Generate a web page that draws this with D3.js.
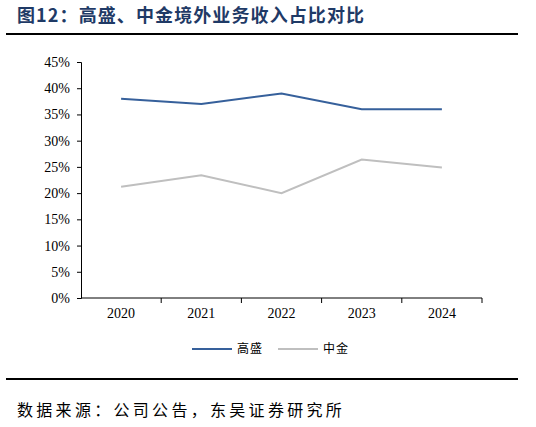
<!DOCTYPE html>
<html>
<head>
<meta charset="utf-8">
<script src="https://cdn.jsdelivr.net/npm/d3@7"></script>
<style>
  body { margin: 0; background: #fff; }
</style>
</head>
<body>
<div class="container"></div>
<script>
const years = ['2020', '2021', '2022', '2023', '2024']
const gsValues = [38, 37, 39, 36, 36]        // 高盛
const cicValues = [21.2, 23.4, 20.0, 26.4, 24.9]  // 中金
const yTicks = [0, 5, 10, 15, 20, 25, 30, 35, 40, 45]
const seriesNames = ['高盛', '中金']
const seriesColors = ['#36609b', '#bfbfbf']

const W = 536, H = 427
const margin = {top: 62, left: 81, right: 54, bottom: 129}

const svg = d3.select('.container')
    .append('svg')
    .attr('width', W)
    .attr('height', H)

// title
svg.append('text')
    .attr('x', 17)
    .attr('y', 22)
    .attr('font-family', '"Noto Sans CJK SC", sans-serif')
    .attr('font-weight', 'bold')
    .attr('font-size', 18)
    .attr('letter-spacing', 1.1)
    .attr('fill', '#1f3a66')
    .text('图12：高盛、中金境外业务收入占比对比')

svg.append('line')
    .attr('x1', 6).attr('x2', 518)
    .attr('y1', 34).attr('y2', 34)
    .attr('stroke', '#000').attr('stroke-width', 2)

const g = svg.append('g')
    .attr('transform', `translate(${margin.left}, ${margin.top})`)

const innerW = W - margin.left - margin.right
const innerH = H - margin.top - margin.bottom

const xScale = d3.scaleBand()
    .domain(years)
    .range([0, innerW])

const yScale = d3.scaleLinear()
    .domain([0, 45])
    .range([innerH, 0])

// y axis
const yAxis = g.append('g')
    .call(d3.axisLeft(yScale)
        .tickValues(yTicks)
        .tickSize(4)
        .tickPadding(7)
        .tickFormat(d => d + '%'))
yAxis.select('.domain').attr('stroke', '#000')
yAxis.selectAll('text')
    .attr('font-family', '"Liberation Serif", serif')
    .attr('font-size', 14)
    .attr('fill', '#000')

// x axis, ticks between categories
const xAxis = g.append('g')
    .attr('transform', `translate(0, ${innerH})`)
    .call(d3.axisBottom(xScale).tickSize(0).tickPadding(10))
xAxis.select('.domain').attr('stroke', '#000').attr('d', `M0,0H${innerW}`)
xAxis.selectAll('text')
    .attr('font-family', '"Liberation Serif", serif')
    .attr('font-size', 14)
    .attr('fill', '#000')
xAxis.selectAll('.sep')
    .data(years.slice(1).concat(['end']))
    .enter()
    .append('line')
    .attr('x1', d => d === 'end' ? innerW : xScale(d))
    .attr('x2', d => d === 'end' ? innerW : xScale(d))
    .attr('y1', 0).attr('y2', 5)
    .attr('stroke', '#000')

const line = d3.line()
    .x((d, i) => xScale(years[i]) + xScale.bandwidth() / 2)
    .y(d => yScale(d))

;[gsValues, cicValues].forEach((vals, k) => {
    g.append('path')
        .datum(vals)
        .attr('fill', 'none')
        .attr('stroke', seriesColors[k])
        .attr('stroke-width', 2)
        .attr('d', line)
})

// legend
const legendX = [192, 278]
seriesNames.forEach((name, k) => {
    svg.append('line')
        .attr('x1', legendX[k]).attr('x2', legendX[k] + 40)
        .attr('y1', 349).attr('y2', 349)
        .attr('stroke', seriesColors[k]).attr('stroke-width', 2)
    svg.append('text')
        .attr('x', legendX[k] + 45)
        .attr('y', 353)
        .attr('font-family', '"Noto Sans CJK SC", sans-serif')
        .attr('font-size', 12)
        .attr('letter-spacing', 1)
        .attr('fill', '#000')
        .text(name)
})

svg.append('line')
    .attr('x1', 6).attr('x2', 518)
    .attr('y1', 379).attr('y2', 379)
    .attr('stroke', '#000').attr('stroke-width', 2)

svg.append('text')
    .attr('x', 17)
    .attr('y', 416)
    .attr('font-family', '"Noto Sans CJK SC", sans-serif')
    .attr('font-size', 16)
    .attr('letter-spacing', 3.3)
    .attr('fill', '#000')
    .text('数据来源：公司公告，东吴证券研究所')
</script>
</body>
</html>
